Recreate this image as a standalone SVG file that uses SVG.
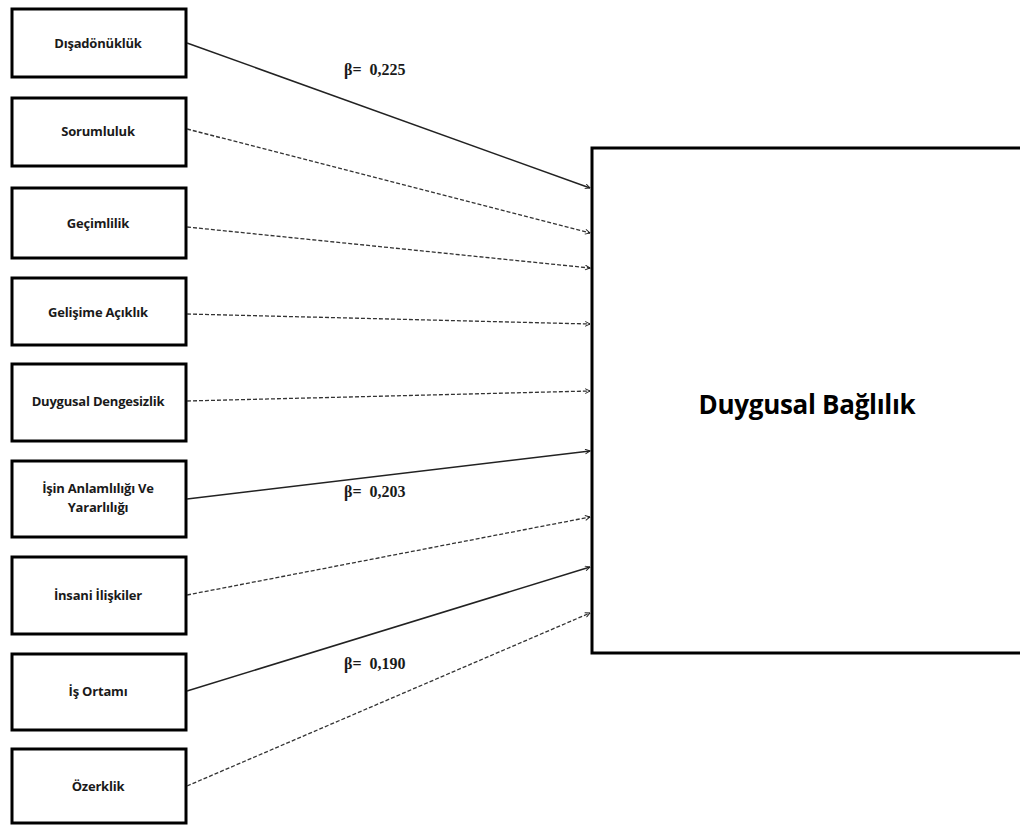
<svg xmlns="http://www.w3.org/2000/svg" width="1020" height="825" viewBox="0 0 1020 825">
  <style>
    .box { fill: #ffffff; stroke: #000000; stroke-width: 3; }
    .lbl { font-family: "Open Sans", "Noto Sans", sans-serif; font-weight: bold; font-size: 13px; fill: #1a1a1a; text-anchor: middle; letter-spacing: -0.2px; }
    .big { font-family: "Open Sans", "Noto Sans", sans-serif; font-weight: bold; font-size: 26px; fill: #000000; text-anchor: middle; letter-spacing: -0.3px; }
    .beta { font-family: "Liberation Serif", serif; font-weight: bold; font-size: 16px; fill: #1a1a1a; white-space: pre; }
    .solid { stroke: #222222; stroke-width: 1.5; fill: none; marker-end: url(#arr); }
    .dash { stroke: #333333; stroke-width: 1.3; stroke-dasharray: 4 2; fill: none; marker-end: url(#arr); }
  </style>
  <defs>
    <marker id="arr" viewBox="0 0 10 10" refX="9" refY="5" markerWidth="6" markerHeight="6" markerUnits="userSpaceOnUse" orient="auto">
      <path d="M1,1 L9,5 L1,9" fill="none" stroke="#222222" stroke-width="1.6"/>
    </marker>
  </defs>

  <rect width="1020" height="825" fill="#ffffff"/>

  <!-- outcome box (right edge runs past the canvas) -->
  <g id="duygusal-baglilik">
    <rect class="box" x="592" y="148" width="440" height="505"/>
    <text class="big" x="807" y="414">Duygusal Bağlılık</text>
  </g>

  <!-- predictor boxes -->
  <g id="disadonukluk">
    <rect class="box" x="12" y="9" width="174" height="68"/>
    <text class="lbl" x="98" y="48">Dışadönüklük</text>
  </g>
  <g id="sorumluluk">
    <rect class="box" x="12" y="98" width="174" height="68"/>
    <text class="lbl" x="98" y="136">Sorumluluk</text>
  </g>
  <g id="gecimlilik">
    <rect class="box" x="12" y="188" width="174" height="70"/>
    <text class="lbl" x="98" y="228">Geçimlilik</text>
  </g>
  <g id="gelisime-aciklik">
    <rect class="box" x="12" y="278" width="174" height="67"/>
    <text class="lbl" x="98" y="317">Gelişime Açıklık</text>
  </g>
  <g id="duygusal-dengesizlik">
    <rect class="box" x="12" y="364" width="174" height="77"/>
    <text class="lbl" x="98" y="406">Duygusal Dengesizlik</text>
  </g>
  <g id="isin-anlamliligi">
    <rect class="box" x="12" y="461" width="174" height="76"/>
    <text class="lbl" x="98" y="493">İşin Anlamlılığı Ve</text>
    <text class="lbl" x="98" y="512">Yararlılığı</text>
  </g>
  <g id="insani-iliskiler">
    <rect class="box" x="12" y="557" width="174" height="77"/>
    <text class="lbl" x="98" y="600">İnsani İlişkiler</text>
  </g>
  <g id="is-ortami">
    <rect class="box" x="12" y="654" width="174" height="76"/>
    <text class="lbl" x="98" y="696">İş Ortamı</text>
  </g>
  <g id="ozerklik">
    <rect class="box" x="12" y="749" width="174" height="74"/>
    <text class="lbl" x="98" y="791">Özerklik</text>
  </g>

  <!-- paths into the outcome box -->
  <g id="connectors">
    <line class="solid" x1="187" y1="43" x2="590" y2="188"/>
    <line class="dash" x1="187" y1="129" x2="590" y2="233"/>
    <line class="dash" x1="187" y1="227" x2="590" y2="268"/>
    <line class="dash" x1="187" y1="314" x2="590" y2="324"/>
    <line class="dash" x1="187" y1="401" x2="590" y2="391"/>
    <line class="solid" x1="187" y1="499" x2="590" y2="451"/>
    <line class="dash" x1="187" y1="595" x2="590" y2="517"/>
    <line class="solid" x1="187" y1="691" x2="590" y2="567"/>
    <line class="dash" x1="187" y1="786" x2="590" y2="613"/>
  </g>

  <!-- path coefficients -->
  <g id="coefficients">
    <text class="beta" x="344" y="75">β=  0,225</text>
    <text class="beta" x="344" y="497">β=  0,203</text>
    <text class="beta" x="344" y="669">β=  0,190</text>
  </g>
</svg>
